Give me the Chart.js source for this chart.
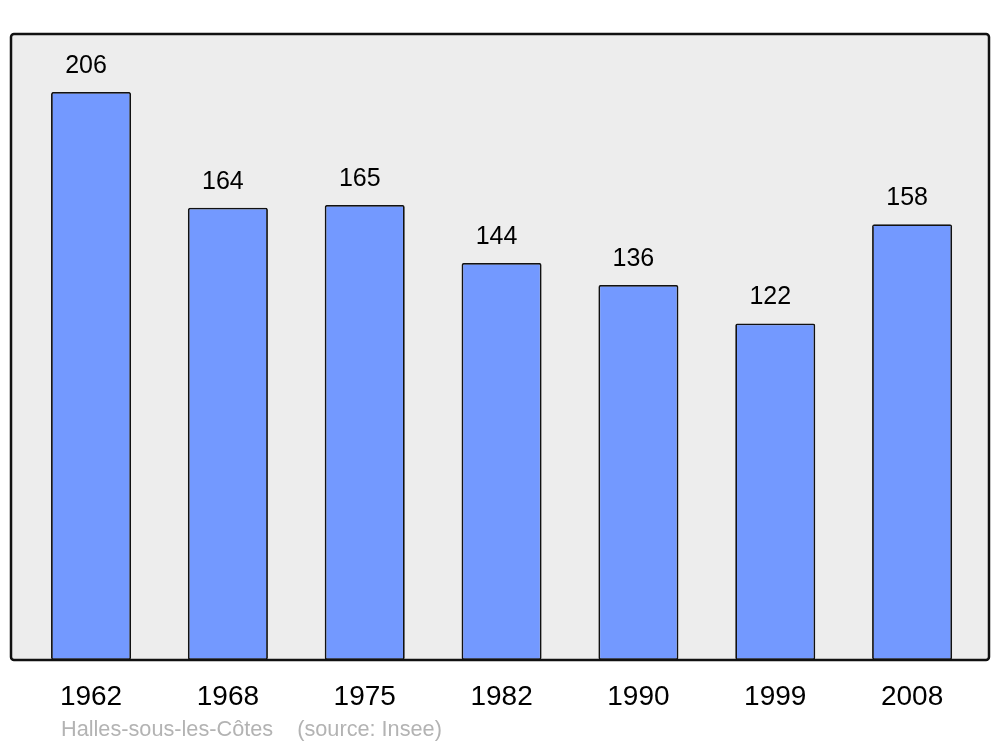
<!DOCTYPE html>
<html lang="fr">
<head>
    <meta charset="UTF-8">
    <title>Halles-sous-les-Côtes</title>
    <style>
        html, body { margin: 0; padding: 0; background: #fff; }
        #wrap { width: 1000px; height: 747px; }
    </style>
</head>
<body>
    <div id="wrap"><canvas id="popChart"></canvas></div>
    <script src="https://cdn.jsdelivr.net/npm/chart.js@4/dist/chart.umd.min.js"></script>
    <script>
        // data
        const years = ['1962', '1968', '1975', '1982', '1990', '1999', '2008'];
        const population = [206, 164, 165, 144, 136, 122, 158];
        const sourceText = 'Halles-sous-les-Côtes    (source: Insee)';

        const points = population.map((v, i) => ({ x: i, y: v }));
        const fontFamily = '"Liberation Sans", Arial, sans-serif';

        // grey panel with black frame behind the bars
        const framePlugin = {
            id: 'frame',
            beforeDraw(chart) {
                const { ctx, chartArea: a } = chart;
                ctx.save();
                ctx.beginPath();
                ctx.roundRect(a.left, a.top, a.right - a.left, a.bottom - a.top, 3);
                ctx.fillStyle = '#ededed';
                ctx.fill();
                ctx.restore();
            },
            afterDatasetsDraw(chart) {
                const { ctx, chartArea: a } = chart;
                ctx.save();
                ctx.beginPath();
                ctx.roundRect(a.left, a.top, a.right - a.left, a.bottom - a.top, 3);
                ctx.lineWidth = 2.5;
                ctx.strokeStyle = '#111';
                ctx.stroke();

                // values above bars
                const meta = chart.getDatasetMeta(0);
                ctx.font = '25px ' + fontFamily;
                ctx.fillStyle = '#000';
                ctx.textAlign = 'center';
                ctx.textBaseline = 'middle';
                meta.data.forEach((bar, i) => {
                    ctx.fillText(population[i], bar.x - 5, bar.y - 26);
                });

                // source line
                ctx.font = '21.7px ' + fontFamily;
                ctx.fillStyle = '#b3b3b3';
                ctx.textAlign = 'left';
                ctx.fillText(sourceText, a.left + 50, a.bottom + 70);
                ctx.restore();
            }
        };

        new Chart(document.getElementById('popChart'), {
            type: 'bar',
            data: {
                datasets: [{
                    data: points,
                    backgroundColor: '#7399ff',
                    borderColor: '#111',
                    borderWidth: 1.8,
                    borderRadius: 2,
                    borderSkipped: false,
                    barPercentage: 0.585,
                    categoryPercentage: 1
                }]
            },
            plugins: [framePlugin],
            options: {
                responsive: true,
                maintainAspectRatio: false,
                animation: false,
                layout: { padding: { left: 11, right: 11, top: 34, bottom: 0 } },
                plugins: {
                    legend: { display: false },
                    tooltip: { enabled: false }
                },
                scales: {
                    x: {
                        type: 'linear',
                        offset: false,
                        min: -0.585,
                        max: 6.562,
                        grid: { display: false },
                        border: { display: false },
                        afterBuildTicks(axis) {
                            axis.ticks = years.map((y, i) => ({ value: i }));
                        },
                        afterFit(axis) { axis.height = 87; },
                        ticks: {
                            padding: 12,
                            color: '#000',
                            font: { family: fontFamily, size: 28 },
                            callback: (v) => years[v] ?? ''
                        }
                    },
                    y: {
                        display: false,
                        min: 0,
                        max: 227
                    }
                }
            }
        });
    </script>
</body>
</html>
